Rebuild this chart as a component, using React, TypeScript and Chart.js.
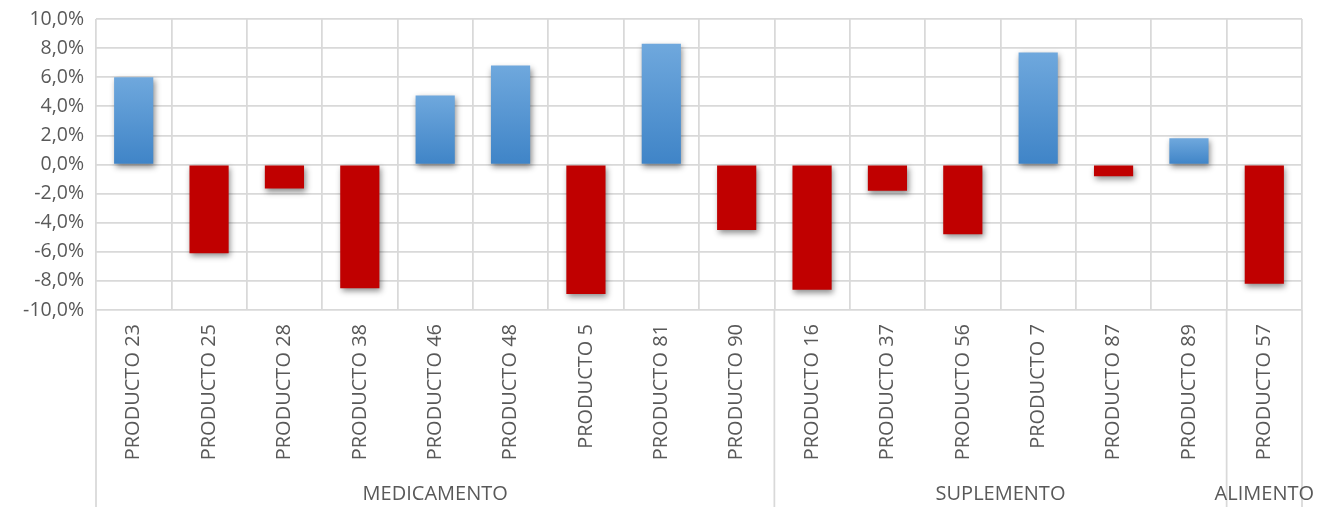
import React, { useEffect, useRef } from 'react';
import { Chart, registerables } from 'chart.js';

Chart.register(...registerables);

const products = [
  'PRODUCTO 23', 'PRODUCTO 25', 'PRODUCTO 28', 'PRODUCTO 38', 'PRODUCTO 46',
  'PRODUCTO 48', 'PRODUCTO 5', 'PRODUCTO 81', 'PRODUCTO 90',
  'PRODUCTO 16', 'PRODUCTO 37', 'PRODUCTO 56', 'PRODUCTO 7', 'PRODUCTO 87', 'PRODUCTO 89',
  'PRODUCTO 57',
];
const values = [6.0, -6.1, -1.65, -8.5, 4.75, 6.8, -8.9, 8.3, -4.5, -8.6, -1.8, -4.8, 7.7, -0.8, 1.8, -8.2];
const groupNames = ['MEDICAMENTO', 'SUPLEMENTO', 'ALIMENTO'];
const groupSizes = [9, 6, 1];
const yMin = -10;
const yMax = 10;
const yStep = 2;

const FONT = '"Open Sans", "Liberation Sans", sans-serif';
const TEXT = '#595959';
const GRID = '#d9d9d9';
const GRID_W = 1.75;

const fmt = (v: number) => v.toFixed(1).replace('.', ',') + '%';

const groupPlugin = {
  id: 'groupAxis',
  afterDraw(chart: any) {
    const { ctx, chartArea } = chart;
    const x = chart.scales.x;
    const n = products.length;
    const w = (x.getPixelForValue(n - 1) - x.getPixelForValue(0)) / (n - 1);
    const left = x.getPixelForValue(0) - w / 2;
    const bottom = chart.height;
    ctx.save();
    ctx.strokeStyle = GRID;
    ctx.lineWidth = GRID_W;
    const lineAt = (px: number) => {
      ctx.beginPath();
      ctx.moveTo(px, chartArea.bottom);
      ctx.lineTo(px, bottom);
      ctx.stroke();
    };
    let idx = 0;
    lineAt(left);
    ctx.fillStyle = TEXT;
    ctx.font = `20px ${FONT}`;
    ctx.textAlign = 'center';
    ctx.textBaseline = 'middle';
    groupSizes.forEach((size, g) => {
      const start = left + idx * w;
      idx += size;
      const end = left + idx * w;
      lineAt(end);
      ctx.fillText(groupNames[g], (start + end) / 2, 494);
    });
    ctx.restore();
  },
};

const shadowPlugin = {
  id: 'barShadow',
  beforeDatasetDraw(chart: any) {
    const ctx = chart.ctx;
    ctx.save();
    ctx.shadowColor = 'rgba(0,0,0,0.45)';
    ctx.shadowBlur = 6;
    ctx.shadowOffsetX = 1.5;
    ctx.shadowOffsetY = 3;
  },
  afterDatasetDraw(chart: any) {
    chart.ctx.restore();
  },
};

export default function App() {
  const ref = useRef<HTMLCanvasElement>(null);
  useEffect(() => {
    document.body.style.margin = '0';
    const canvas = ref.current!;
    const chart = new Chart(canvas, {
      type: 'bar',
      data: {
        labels: products,
        datasets: [
          {
            data: values,
            backgroundColor: (c: any) => {
              const v = c.raw as number;
              if (v < 0) return '#c00000';
              const y = c.chart.scales?.y;
              if (!y) return '#5b9bd5';
              const top = y.getPixelForValue(v);
              const base = y.getPixelForValue(0);
              if (!isFinite(top) || !isFinite(base) || top === base) return '#5b9bd5';
              const g = c.chart.ctx.createLinearGradient(0, top, 0, base);
              g.addColorStop(0, '#6fa8dd');
              g.addColorStop(1, '#3f84c7');
              return g;
            },
            borderWidth: 0,
            barPercentage: 0.52,
            categoryPercentage: 1,
          },
        ],
      },
      options: {
        animation: false,
        responsive: false,
        maintainAspectRatio: false,
        layout: { padding: { top: 19, right: 15, bottom: 0, left: 0 } },
        plugins: { legend: { display: false }, tooltip: { enabled: false } },
        scales: {
          x: {
            grid: { color: GRID, lineWidth: GRID_W, drawTicks: false, offset: true },
            border: { display: false },
            ticks: {
              color: TEXT,
              font: { family: FONT, size: 20 },
              maxRotation: 90,
              minRotation: 90,
              padding: 14,
              autoSkip: false,
            },
            afterFit: (s: any) => {
              s.height = 197;
            },
          },
          y: {
            min: yMin,
            max: yMax,
            grid: { color: GRID, lineWidth: GRID_W, drawTicks: false },
            border: { display: false },
            ticks: {
              stepSize: yStep,
              color: TEXT,
              font: { family: FONT, size: 19.5 },
              padding: 12,
              callback: (v: any) => fmt(Number(v)),
            },
            afterFit: (s: any) => {
              s.width = 96;
              s.paddingTop = 12;
            },
          },
        },
      },
      plugins: [shadowPlugin, groupPlugin],
    });
    return () => chart.destroy();
  }, []);
  return (
    <div style={{ position: 'fixed', left: 0, top: 0, width: 1317, height: 507 }}>
      <canvas ref={ref} width={1317} height={507} style={{ display: 'block' }} />
    </div>
  );
}
